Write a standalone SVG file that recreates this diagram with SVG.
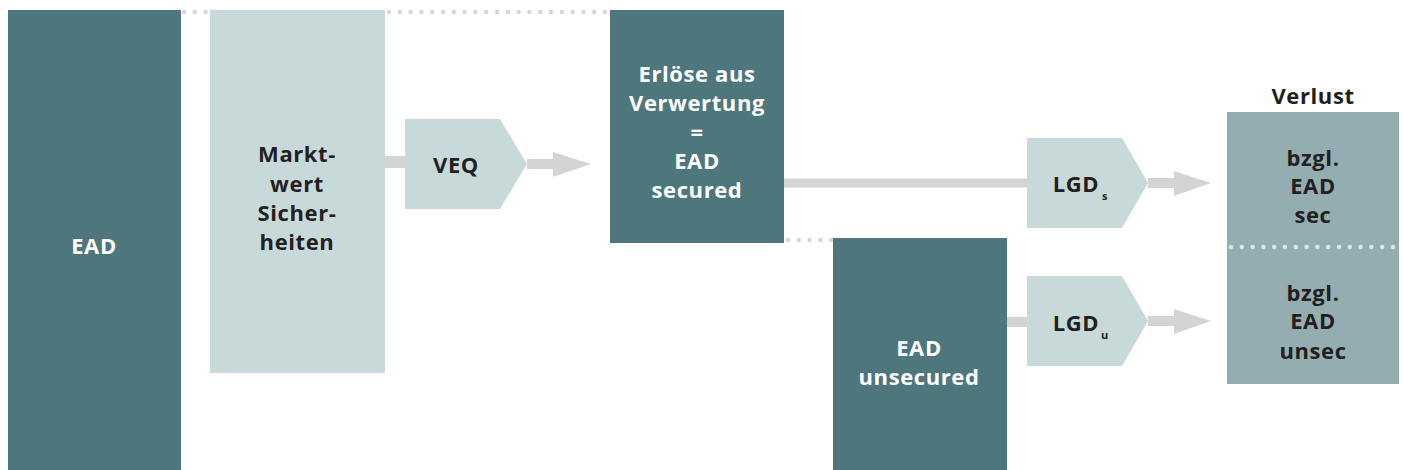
<svg xmlns="http://www.w3.org/2000/svg" width="1403" height="470" viewBox="0 0 1403 470">
<style>
.dark{fill:#4d777d}
.light{fill:#c8d9d9}
.loss{fill:#93adb1}
.conn{stroke:#d4d4d4;fill:none}
.head{fill:#d4d4d4}
.dots{stroke:#d6d6d6;stroke-width:4.5;stroke-linecap:round;stroke-dasharray:0 10.8;fill:none}
.wdots{stroke:#dde5e6;stroke-width:4.5;stroke-linecap:round;stroke-dasharray:0 10.8;fill:none}
text{font-family:"Open Sans","Liberation Sans",sans-serif;font-weight:700;font-size:22px;letter-spacing:0.6px;text-anchor:middle;dominant-baseline:central}
.w{fill:#ffffff}
.k{fill:#231f20}
</style>
<g id="connectors">
<path class="dots" d="M184 12H210M389 12H610"/>
<path class="dots" d="M788 240H833"/>
<path class="conn" stroke-width="12" d="M385 162H405"/>
<path class="conn" stroke-width="10" d="M527 164H556"/>
<polygon class="head" points="553,152 591,164 553,177"/>
<path class="conn" stroke-width="9" d="M784 183H1027"/>
<path class="conn" stroke-width="10" d="M1148 183H1176"/>
<polygon class="head" points="1174,171 1211,183 1174,196"/>
<path class="conn" stroke-width="10" d="M1007 322H1027"/>
<path class="conn" stroke-width="10" d="M1148 321H1176"/>
<polygon class="head" points="1174,309 1211,321 1174,334"/>
</g>
<g id="ead">
<rect class="dark" x="8" y="10" width="173" height="460"/>
<text class="w" x="94" y="245">EAD</text>
</g>
<g id="marktwert">
<rect class="light" x="210" y="10" width="175" height="363"/>
<text class="k" x="297" y="153">Markt-</text>
<text class="k" x="297" y="183">wert</text>
<text class="k" x="297" y="212">Sicher-</text>
<text class="k" x="297" y="241">heiten</text>
</g>
<g id="veq">
<polygon class="light" points="405,119 500,119 527,164 500,209 405,209"/>
<text class="k" x="456" y="164">VEQ</text>
</g>
<g id="erloese">
<rect class="dark" x="610" y="10" width="174" height="233"/>
<text class="w" x="697" y="73">Erlöse aus</text>
<text class="w" x="697" y="102">Verwertung</text>
<text class="w" x="697" y="131">=</text>
<text class="w" x="697" y="160">EAD</text>
<text class="w" x="697" y="189">secured</text>
</g>
<g id="unsecured">
<rect class="dark" x="833" y="238" width="174" height="232"/>
<text class="w" x="919" y="347">EAD</text>
<text class="w" x="919" y="376">unsecured</text>
</g>
<g id="lgds">
<polygon class="light" points="1027,138 1122,138 1148,183 1122,228 1027,228"/>
<text class="k" x="1076" y="183">LGD</text>
<text class="k" x="1105" y="195" style="font-size:11px">s</text>
</g>
<g id="lgdu">
<polygon class="light" points="1027,276 1122,276 1148,321 1122,366 1027,366"/>
<text class="k" x="1076" y="322">LGD</text>
<text class="k" x="1105" y="334" style="font-size:11px">u</text>
</g>
<g id="verlust">
<text class="k" x="1313" y="95">Verlust</text>
<rect class="loss" x="1227" y="112" width="172" height="272"/>
<path class="wdots" d="M1231 247H1399"/>
<text class="k" x="1313" y="157">bzgl.</text>
<text class="k" x="1313" y="185">EAD</text>
<text class="k" x="1313" y="214">sec</text>
<text class="k" x="1313" y="292">bzgl.</text>
<text class="k" x="1313" y="320">EAD</text>
<text class="k" x="1313" y="350">unsec</text>
</g>
</svg>
